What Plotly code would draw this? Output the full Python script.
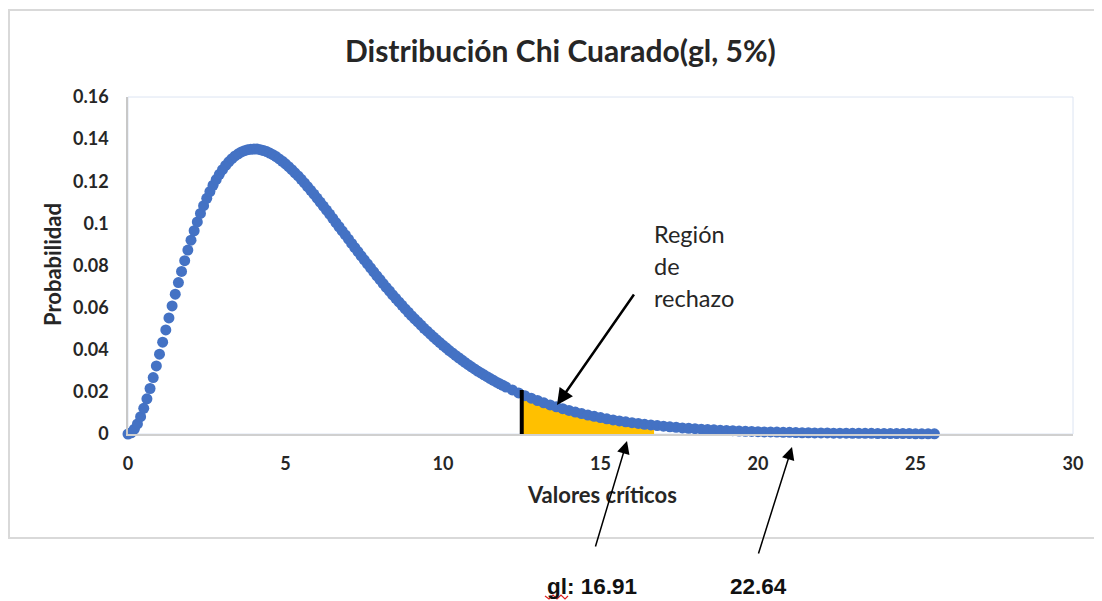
import plotly.graph_objects as go

# valores (chi cuadrado, curva de densidad)
x_vals = [
    0.0, 0.1, 0.2, 0.3, 0.4, 0.5, 0.6, 0.7, 0.8, 0.9,
    1.0, 1.1, 1.2, 1.3, 1.4, 1.5, 1.6, 1.7, 1.8, 1.9,
    2.0, 2.1, 2.2, 2.3, 2.4, 2.5, 2.6, 2.7, 2.8, 2.9,
    3.0, 3.1, 3.2, 3.3, 3.4, 3.5, 3.6, 3.7, 3.8, 3.9,
    4.0, 4.1, 4.2, 4.3, 4.4, 4.5, 4.6, 4.7, 4.8, 4.9,
    5.0, 5.1, 5.2, 5.3, 5.4, 5.5, 5.6, 5.7, 5.8, 5.9,
    6.0, 6.1, 6.2, 6.3, 6.4, 6.5, 6.6, 6.7, 6.8, 6.9,
    7.0, 7.1, 7.2, 7.3, 7.4, 7.5, 7.6, 7.7, 7.8, 7.9,
    8.0, 8.1, 8.2, 8.3, 8.4, 8.5, 8.6, 8.7, 8.8, 8.9,
    9.0, 9.1, 9.2, 9.3, 9.4, 9.5, 9.6, 9.7, 9.8, 9.9,
    10.0, 10.1, 10.2, 10.3, 10.4, 10.5, 10.6, 10.7, 10.8, 10.9,
    11.0, 11.1, 11.2, 11.3, 11.4, 11.5, 11.6, 11.7, 11.8, 11.9,
    12.0, 12.2, 12.4, 12.6, 12.8, 13.0, 13.2, 13.4, 13.6, 13.8,
    14.0, 14.2, 14.4, 14.6, 14.8, 15.0, 15.2, 15.4, 15.6, 15.8,
    16.0, 16.2, 16.4, 16.6, 16.8, 17.0, 17.2, 17.4, 17.6, 17.8,
    18.0, 18.2, 18.4, 18.6, 18.8, 19.0, 19.2, 19.4, 19.6, 19.8,
    20.0, 20.2, 20.4, 20.6, 20.8, 21.0, 21.2, 21.4, 21.6, 21.8,
    22.0, 22.2, 22.4, 22.6, 22.8, 23.0, 23.2, 23.4, 23.6, 23.8,
    24.0, 24.2, 24.4, 24.6, 24.8, 25.0, 25.2, 25.4, 25.6,
]
prob_vals = [
    0.0000, 0.0006, 0.0023, 0.0048, 0.0082, 0.0122, 0.0167, 0.0216, 0.0268, 0.0323,
    0.0379, 0.0436, 0.0494, 0.0551, 0.0608, 0.0664, 0.0719, 0.0772, 0.0823, 0.0873,
    0.0920, 0.0965, 0.1007, 0.1047, 0.1084, 0.1119, 0.1151, 0.1181, 0.1208, 0.1233,
    0.1255, 0.1275, 0.1292, 0.1307, 0.1320, 0.1330, 0.1339, 0.1345, 0.1350, 0.1352,
    0.1353, 0.1353, 0.1350, 0.1346, 0.1341, 0.1334, 0.1326, 0.1317, 0.1306, 0.1295,
    0.1283, 0.1269, 0.1255, 0.1240, 0.1225, 0.1209, 0.1192, 0.1175, 0.1157, 0.1139,
    0.1120, 0.1101, 0.1082, 0.1063, 0.1044, 0.1024, 0.1004, 0.0984, 0.0964, 0.0945,
    0.0925, 0.0905, 0.0885, 0.0866, 0.0846, 0.0827, 0.0808, 0.0789, 0.0770, 0.0751,
    0.0733, 0.0714, 0.0696, 0.0679, 0.0661, 0.0644, 0.0627, 0.0611, 0.0594, 0.0578,
    0.0562, 0.0547, 0.0532, 0.0517, 0.0502, 0.0488, 0.0474, 0.0460, 0.0447, 0.0434,
    0.0421, 0.0409, 0.0396, 0.0385, 0.0373, 0.0362, 0.0351, 0.0340, 0.0329, 0.0319,
    0.0309, 0.0299, 0.0290, 0.0281, 0.0272, 0.0263, 0.0255, 0.0246, 0.0238, 0.0231,
    0.0223, 0.0209, 0.0195, 0.0182, 0.0170, 0.0159, 0.0148, 0.0138, 0.0129, 0.0120,
    0.0112, 0.0104, 0.0097, 0.0090, 0.0084, 0.0078, 0.0072, 0.0067, 0.0062, 0.0058,
    0.0054, 0.0050, 0.0046, 0.0043, 0.0040, 0.0037, 0.0034, 0.0032, 0.0029, 0.0027,
    0.0025, 0.0023, 0.0021, 0.0020, 0.0018, 0.0017, 0.0016, 0.0014, 0.0013, 0.0012,
    0.0011, 0.0010, 0.0010, 0.0009, 0.0008, 0.0008, 0.0007, 0.0006, 0.0006, 0.0005,
    0.0005, 0.0005, 0.0004, 0.0004, 0.0004, 0.0003, 0.0003, 0.0003, 0.0003, 0.0002,
    0.0002, 0.0002, 0.0002, 0.0002, 0.0002, 0.0001, 0.0001, 0.0001, 0.0001,
]

# region de rechazo (area amarilla)
shade_x = [12.5, 12.6, 12.8, 13.0, 13.2, 13.4, 13.6, 13.8, 14.0, 14.2, 14.4, 14.6,
           14.8, 15.0, 15.2, 15.4, 15.6, 15.8, 16.0, 16.2, 16.4, 16.6, 16.7]
shade_y = [0.0189, 0.0182, 0.0170, 0.0159, 0.0148, 0.0138, 0.0129, 0.0120, 0.0112,
           0.0104, 0.0097, 0.0090, 0.0084, 0.0078, 0.0072, 0.0067, 0.0062, 0.0058,
           0.0054, 0.0050, 0.0046, 0.0043, 0.0041]

# barra negra en el valor critico
crit_x = [12.5, 12.5]
crit_y = [-0.0014, 0.0209]

x_ticks = [0, 5, 10, 15, 20, 25, 30]
y_ticks = [0, 0.02, 0.04, 0.06, 0.08, 0.1, 0.12, 0.14, 0.16]
y_tick_text = ["0", "0.02", "0.04", "0.06", "0.08", "0.1", "0.12", "0.14", "0.16"]

# la pagina tiene 8px de margen en el body
OFF = 8
W, H = 1102 - OFF, 601 - OFF
L, T = 128 - OFF, 97 - OFF
PW, PH = 945, 337
R, B = W - L - PW, H - T - PH


def px(x):
    return (x - OFF - L) / PW


def py(y):
    return (H - B - (y - OFF)) / PH


FONT = "Lato"
BLUE = "#4472C4"

fig = go.Figure()
fig.add_trace(go.Scatter(x=shade_x, y=shade_y, mode="lines", fill="tozeroy",
                         fillcolor="#FFC000", line=dict(width=0), hoverinfo="skip"))
fig.add_trace(go.Scatter(x=x_vals, y=prob_vals, mode="markers", cliponaxis=False,
                         marker=dict(color=BLUE, size=11, line=dict(width=0))))
fig.add_trace(go.Scatter(x=crit_x, y=crit_y, mode="lines", cliponaxis=False,
                         line=dict(color="black", width=4)))

shapes = [
    # marco del grafico
    dict(type="rect", xref="paper", yref="paper", x0=px(9), x1=px(1112), y0=py(538), y1=py(10),
         line=dict(color="#D9D9D9", width=2), layer="below"),
    # borde del area de trazado
    dict(type="rect", xref="paper", yref="paper", x0=0, x1=1, y0=0, y1=1,
         line=dict(color="#DCE4F2", width=1), layer="below"),
    # marcas rosadas arriba
    dict(type="rect", xref="paper", yref="paper", x0=px(212), x1=px(232), y0=py(3), y1=py(-2),
         fillcolor="#F6CAD7", line=dict(width=0)),
    dict(type="rect", xref="paper", yref="paper", x0=px(823), x1=px(844), y0=py(3), y1=py(-2),
         fillcolor="#F6CAD7", line=dict(width=0)),
    # subrayado rojo bajo "gl"
    dict(type="path", xref="paper", yref="paper",
         path="M {} {} L {} {} L {} {} L {} {} L {} {} L {} {} L {} {}".format(
             px(545), py(596), px(549), py(599), px(553), py(595), px(557), py(599),
             px(561), py(595), px(565), py(599), px(568), py(596)),
         line=dict(color="#E02020", width=1.2)),
]

ann = [
    dict(text="<b>Distribución Chi Cuarado(gl, 5%)</b>", x=px(560), y=py(50),
         font=dict(size=30, color="#262626", family=FONT)),
    dict(text="<b>Valores críticos</b>", x=px(602), y=py(494),
         font=dict(size=22, color="#262626", family=FONT)),
    dict(text="<b>Probabilidad</b>", x=px(52), y=py(265), textangle=-90,
         font=dict(size=22, color="#262626", family=FONT)),
    dict(text="Región", x=px(652), y=py(234), xanchor="left",
         font=dict(size=23.5, color="#262626", family=FONT)),
    dict(text="de", x=px(652), y=py(266), xanchor="left",
         font=dict(size=23.5, color="#262626", family=FONT)),
    dict(text="rechazo", x=px(652), y=py(298), xanchor="left",
         font=dict(size=23.5, color="#262626", family=FONT)),
    dict(text="<b>gl: 16.91</b>", x=px(592), y=py(586),
         font=dict(size=22.5, color="#111111", family="Liberation Sans")),
    dict(text="<b>22.64</b>", x=px(758), y=py(586),
         font=dict(size=22.5, color="#111111", family="Liberation Sans")),
]
for a in ann:
    a.update(xref="paper", yref="paper", showarrow=False, yanchor="middle")
    a.setdefault("xanchor", "center")

# flechas (punta en x, y; cola desplazada ax, ay en pixeles)
arrows = [
    dict(x=px(557), y=py(405), ax=78, ay=-112, arrowwidth=2.5, arrowsize=1.3),
    dict(x=px(627), y=py(441), ax=-32, ay=107, arrowwidth=1.5, arrowsize=1.7),
    dict(x=px(792), y=py(447), ax=-34, ay=108, arrowwidth=1.5, arrowsize=1.7),
]
for a in arrows:
    a.update(xref="paper", yref="paper", text="", showarrow=True, arrowhead=2,
             arrowcolor="black", axref="pixel", ayref="pixel")
    ann.append(a)

fig.update_layout(
    width=W, height=H,
    margin=dict(l=L, r=R, t=T, b=B),
    paper_bgcolor="white", plot_bgcolor="white",
    showlegend=False,
    shapes=shapes,
    annotations=ann,
    xaxis=dict(range=[0, 30], tickvals=x_ticks, showgrid=False, zeroline=False,
               showline=True, linecolor="#D0D0D0", linewidth=1.5, ticks="",
               ticklabelstandoff=13,
               tickfont=dict(size=18, color="#262626", family=FONT, weight="bold")),
    yaxis=dict(range=[0, 0.16], tickvals=y_ticks, ticktext=y_tick_text, showgrid=False,
               zeroline=False, showline=True, linecolor="#C8C8C8", linewidth=1.5, ticks="",
               ticklabelstandoff=14,
               tickfont=dict(size=18, color="#262626", family=FONT, weight="bold")),
)

fig.write_html("out.html")
